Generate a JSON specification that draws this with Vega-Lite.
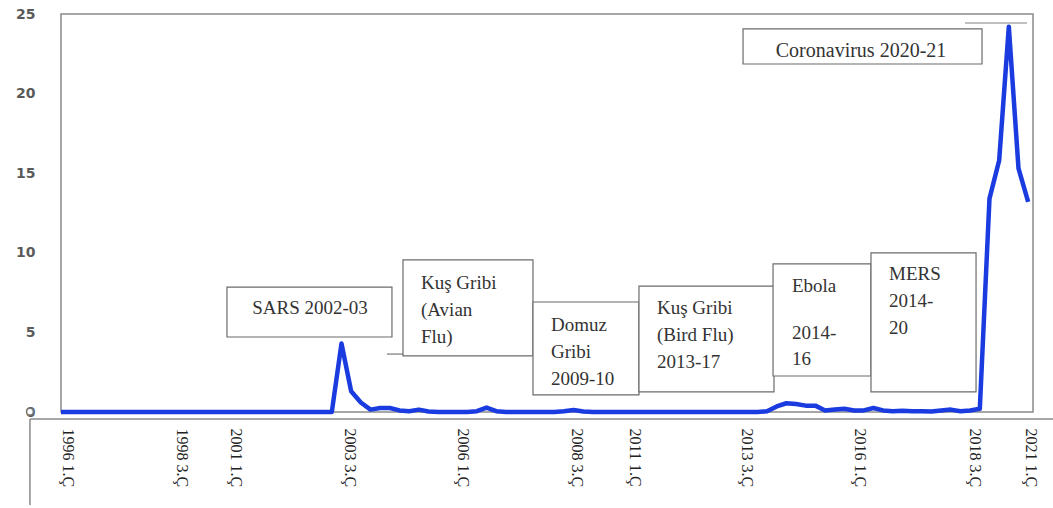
{
  "$schema": "https://vega.github.io/schema/vega-lite/v6.json",
  "autosize": {"type": "none"},
  "padding": {"left": 61, "top": 14, "right": 20, "bottom": 96},
  "width": 972,
  "height": 398,
  "background": "white",
  "config": {
    "view": {"stroke": "#8a8a8a", "strokeWidth": 1.5},
    "axis": {"grid": false, "ticks": false, "domain": false, "title": null}
  },
  "layer": [
    {
      "data": {"values": [
        {"t":0,"v":0},{"t":1,"v":0},{"t":2,"v":0},{"t":3,"v":0},{"t":4,"v":0},{"t":5,"v":0},{"t":6,"v":0},{"t":7,"v":0},{"t":8,"v":0},{"t":9,"v":0},
        {"t":10,"v":0},{"t":11,"v":0},{"t":12,"v":0},{"t":13,"v":0},{"t":14,"v":0},{"t":15,"v":0},{"t":16,"v":0},{"t":17,"v":0},{"t":18,"v":0},{"t":19,"v":0},
        {"t":20,"v":0},{"t":21,"v":0},{"t":22,"v":0},{"t":23,"v":0},{"t":24,"v":0},{"t":25,"v":0},{"t":26,"v":0},{"t":27,"v":0},{"t":28,"v":0},{"t":29,"v":4.3},
        {"t":30,"v":1.3},{"t":31,"v":0.6},{"t":32,"v":0.15},{"t":33,"v":0.25},{"t":34,"v":0.25},{"t":35,"v":0.1},{"t":36,"v":0.05},{"t":37,"v":0.15},{"t":38,"v":0.03},{"t":39,"v":0},
        {"t":40,"v":0},{"t":41,"v":0},{"t":42,"v":0},{"t":43,"v":0.05},{"t":44,"v":0.28},{"t":45,"v":0.05},{"t":46,"v":0},{"t":47,"v":0},{"t":48,"v":0},{"t":49,"v":0},
        {"t":50,"v":0},{"t":51,"v":0},{"t":52,"v":0.05},{"t":53,"v":0.12},{"t":54,"v":0.03},{"t":55,"v":0},{"t":56,"v":0},{"t":57,"v":0},{"t":58,"v":0},{"t":59,"v":0},
        {"t":60,"v":0},{"t":61,"v":0},{"t":62,"v":0},{"t":63,"v":0},{"t":64,"v":0},{"t":65,"v":0},{"t":66,"v":0},{"t":67,"v":0},{"t":68,"v":0},{"t":69,"v":0},
        {"t":70,"v":0},{"t":71,"v":0},{"t":72,"v":0},{"t":73,"v":0.05},{"t":74,"v":0.35},{"t":75,"v":0.55},{"t":76,"v":0.5},{"t":77,"v":0.4},{"t":78,"v":0.4},{"t":79,"v":0.1},
        {"t":80,"v":0.15},{"t":81,"v":0.2},{"t":82,"v":0.1},{"t":83,"v":0.1},{"t":84,"v":0.25},{"t":85,"v":0.1},{"t":86,"v":0.05},{"t":87,"v":0.08},{"t":88,"v":0.05},{"t":89,"v":0.05},
        {"t":90,"v":0.03},{"t":91,"v":0.1},{"t":92,"v":0.15},{"t":93,"v":0.05},{"t":94,"v":0.1},{"t":95,"v":0.2},{"t":96,"v":13.4},{"t":97,"v":15.8},{"t":98,"v":24.2},{"t":99,"v":15.3},
        {"t":100,"v":13.2}
      ]},
      "mark": {"type": "line", "color": "#1a3be0", "strokeWidth": 4.5, "strokeJoin": "round"},
      "encoding": {
        "x": {
          "field": "t", "type": "quantitative",
          "scale": {"domain": [0, 100.5], "nice": false, "zero": false},
          "axis": {
            "values": [0.72, 12.51, 18.09, 29.88, 41.56, 53.25, 59.25, 70.83, 82.61, 94.4, 100.19],
            "labelExpr": "['1996 1.Ç','1998 3.Ç','2001 1.Ç','2003 3.Ç','2006 1.Ç','2008 3.Ç','2011 1.Ç','2013 3.Ç','2016 1.Ç','2018 3.Ç','2021 1.Ç'][indexof([0.72,12.51,18.09,29.88,41.56,53.25,59.25,70.83,82.61,94.4,100.19], datum.value)]",
            "labelAngle": 90, "labelAlign": "left", "labelBaseline": "middle",
            "labelPadding": 16, "labelFont": "Liberation Serif", "labelFontSize": 16,
            "labelColor": "#222222", "labelOverlap": false, "labelBound": false, "labelFlush": false
          }
        },
        "y": {
          "field": "v", "type": "quantitative",
          "scale": {"domain": [0, 25], "nice": false},
          "axis": {
            "values": [0, 5, 10, 15, 20, 25],
            "labelFont": "DejaVu Sans", "labelFontWeight": "bold", "labelFontSize": 14,
            "labelColor": "#5a5a5a", "labelPadding": 26, "labelBound": false, "labelFlush": false
          }
        }
      }
    },
    {
      "data": {"values": [{"part": "axis line"}]},
      "layer": [
        {"mark": {"type": "rule", "color": "#8a8a8a", "strokeWidth": 1.5},
         "encoding": {"x": {"datum": -3.21, "type": "quantitative"}, "x2": {"datum": 102.6}, "y": {"datum": -0.44, "type": "quantitative"}}},
        {"mark": {"type": "rule", "color": "#8a8a8a", "strokeWidth": 1.5},
         "encoding": {"x": {"datum": -3.21, "type": "quantitative"}, "y": {"datum": -0.44, "type": "quantitative"}, "y2": {"datum": -5.84}}},
        {"mark": {"type": "point", "shape": "circle", "size": 45, "filled": true, "fill": "white", "stroke": "#777777", "strokeWidth": 1.5, "opacity": 1},
         "encoding": {"x": {"datum": -3.21, "type": "quantitative"}, "y": {"datum": 0.02, "type": "quantitative"}}},
        {"mark": {"type": "rule", "color": "#777777", "strokeWidth": 1.2},
         "encoding": {"x": {"datum": 33.7, "type": "quantitative"}, "x2": {"datum": 35.36}, "y": {"datum": 3.64, "type": "quantitative"}}},
        {"mark": {"type": "rule", "color": "#aaaaaa", "strokeWidth": 1.5},
         "encoding": {"x": {"datum": 93.47, "type": "quantitative"}, "x2": {"datum": 99.88}, "y": {"datum": 24.43, "type": "quantitative"}}}
      ]
    },
    {
      "data": {"values": [{"note": "SARS 2002-03"}]},
      "layer": [
        {"mark": {"type": "rect", "fill": "white", "stroke": "#6b6b6b", "strokeWidth": 1.2},
         "encoding": {"x": {"datum": 17.16, "type": "quantitative"}, "x2": {"datum": 34.22}, "y": {"datum": 7.85, "type": "quantitative"}, "y2": {"datum": 4.71}}},
        {"mark": {"type": "text", "font": "Liberation Serif", "fontSize": 19, "fill": "#333333", "align": "center", "baseline": "alphabetic"},
         "encoding": {"x": {"datum": 25.75, "type": "quantitative"}, "y": {"datum": 6.16, "type": "quantitative"}, "text": {"field": "note"}}}
      ]
    },
    {
      "data": {"values": [{"note": "Kuş Gribi\n(Avian\nFlu)"}]},
      "layer": [
        {"mark": {"type": "rect", "fill": "white", "stroke": "#6b6b6b", "strokeWidth": 1.2},
         "encoding": {"x": {"datum": 35.36, "type": "quantitative"}, "x2": {"datum": 48.8}, "y": {"datum": 9.55, "type": "quantitative"}, "y2": {"datum": 3.52}}},
        {"mark": {"type": "text", "font": "Liberation Serif", "fontSize": 19, "fill": "#333333", "align": "left", "baseline": "alphabetic", "lineBreak": "\n", "lineHeight": 27},
         "encoding": {"x": {"datum": 37.22, "type": "quantitative"}, "y": {"datum": 7.73, "type": "quantitative"}, "text": {"field": "note"}}}
      ]
    },
    {
      "data": {"values": [{"note": "Domuz\nGribi\n2009-10"}]},
      "layer": [
        {"mark": {"type": "rect", "fill": "white", "stroke": "#6b6b6b", "strokeWidth": 1.2},
         "encoding": {"x": {"datum": 48.8, "type": "quantitative"}, "x2": {"datum": 59.76}, "y": {"datum": 6.91, "type": "quantitative"}, "y2": {"datum": 1.07}}},
        {"mark": {"type": "text", "font": "Liberation Serif", "fontSize": 19, "fill": "#333333", "align": "left", "baseline": "alphabetic", "lineBreak": "\n", "lineHeight": 27},
         "encoding": {"x": {"datum": 50.66, "type": "quantitative"}, "y": {"datum": 5.09, "type": "quantitative"}, "text": {"field": "note"}}}
      ]
    },
    {
      "data": {"values": [{"note": "Kuş Gribi\n(Bird Flu)\n2013-17"}]},
      "layer": [
        {"mark": {"type": "rect", "fill": "white", "stroke": "#6b6b6b", "strokeWidth": 1.2},
         "encoding": {"x": {"datum": 59.76, "type": "quantitative"}, "x2": {"datum": 73.72}, "y": {"datum": 7.91, "type": "quantitative"}, "y2": {"datum": 1.26}}},
        {"mark": {"type": "text", "font": "Liberation Serif", "fontSize": 19, "fill": "#333333", "align": "left", "baseline": "alphabetic", "lineBreak": "\n", "lineHeight": 27},
         "encoding": {"x": {"datum": 61.62, "type": "quantitative"}, "y": {"datum": 6.16, "type": "quantitative"}, "text": {"field": "note"}}}
      ]
    },
    {
      "data": {"values": [{"note": "Ebola", "years": " 2014-\n16"}]},
      "layer": [
        {"mark": {"type": "rect", "fill": "white", "stroke": "#6b6b6b", "strokeWidth": 1.2},
         "encoding": {"x": {"datum": 73.62, "type": "quantitative"}, "x2": {"datum": 83.75}, "y": {"datum": 9.3, "type": "quantitative"}, "y2": {"datum": 2.26}}},
        {"mark": {"type": "text", "font": "Liberation Serif", "fontSize": 19, "fill": "#333333", "align": "left", "baseline": "alphabetic"},
         "encoding": {"x": {"datum": 75.58, "type": "quantitative"}, "y": {"datum": 7.54, "type": "quantitative"}, "text": {"field": "note"}}},
        {"mark": {"type": "text", "font": "Liberation Serif", "fontSize": 19, "fill": "#333333", "align": "left", "baseline": "alphabetic", "lineBreak": "\n", "lineHeight": 26},
         "encoding": {"x": {"datum": 75.58, "type": "quantitative"}, "y": {"datum": 4.59, "type": "quantitative"}, "text": {"field": "years"}}}
      ]
    },
    {
      "data": {"values": [{"note": "MERS\n2014-\n20"}]},
      "layer": [
        {"mark": {"type": "rect", "fill": "white", "stroke": "#6b6b6b", "strokeWidth": 1.2},
         "encoding": {"x": {"datum": 83.75, "type": "quantitative"}, "x2": {"datum": 94.61}, "y": {"datum": 9.99, "type": "quantitative"}, "y2": {"datum": 1.26}}},
        {"mark": {"type": "text", "font": "Liberation Serif", "fontSize": 19, "fill": "#333333", "align": "left", "baseline": "alphabetic", "lineBreak": "\n", "lineHeight": 27},
         "encoding": {"x": {"datum": 85.61, "type": "quantitative"}, "y": {"datum": 8.29, "type": "quantitative"}, "text": {"field": "note"}}}
      ]
    },
    {
      "data": {"values": [{"note": "Coronavirus  2020-21"}]},
      "layer": [
        {"mark": {"type": "rect", "fill": "white", "stroke": "#6b6b6b", "strokeWidth": 1.2},
         "encoding": {"x": {"datum": 70.52, "type": "quantitative"}, "x2": {"datum": 95.23}, "y": {"datum": 24.06, "type": "quantitative"}, "y2": {"datum": 21.86}}},
        {"mark": {"type": "text", "font": "Liberation Serif", "fontSize": 20, "fill": "#333333", "align": "center", "baseline": "alphabetic"},
         "encoding": {"x": {"datum": 82.72, "type": "quantitative"}, "y": {"datum": 22.3, "type": "quantitative"}, "text": {"field": "note"}}}
      ]
    }
  ]
}
